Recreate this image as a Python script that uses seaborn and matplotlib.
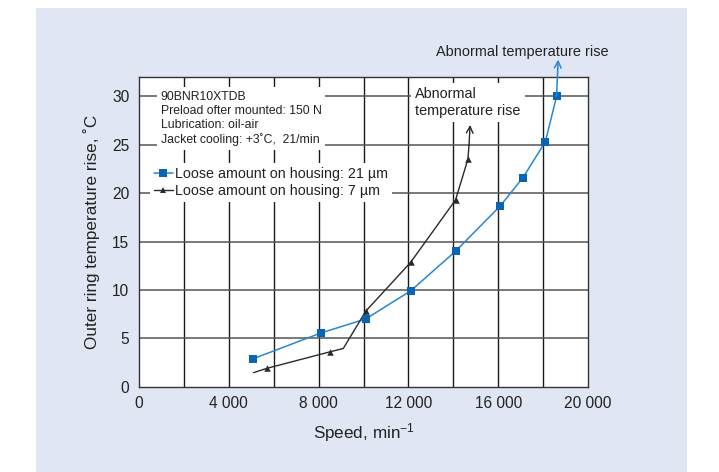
import matplotlib
matplotlib.use("Agg")
import matplotlib.pyplot as plt
import seaborn as sns
import pandas as pd
from matplotlib.lines import Line2D
from matplotlib.patches import Rectangle

# ---- data ----
speed_21 = [5100, 8100, 10100, 12100, 14100, 16100, 17100, 18100, 18600]
temp_21 = [2.9, 5.55, 7.0, 9.9, 14.0, 18.7, 21.6, 25.3, 30.0]
speed_7 = [5100, 5700, 8500, 9100, 10100, 12100, 14100, 14650, 14700]
temp_7 = [1.45, 1.9, 3.6, 3.95, 7.8, 12.85, 19.3, 23.5, 25.0]
marked_7 = [1, 2, 4, 5, 6, 7]
xticks = [0, 4000, 8000, 12000, 16000, 20000]
xticklabels = ["0", "4 000", "8 000", "12 000", "16 000", "20 000"]
yticks = [0, 5, 10, 15, 20, 25, 30]
label_21 = "Loose amount on housing: 21 µm"
label_7 = "Loose amount on housing: 7 µm"
info_text = "90BNR10XTDB\nPreload ofter mounted: 150 N\nLubrication: oil-air\nJacket cooling: +3˚C,  21/min"
abn_text = "Abnormal temperature rise"

sns.set_style("white")
plt.rcParams["font.family"] = ["Liberation Sans", "DejaVu Sans"]
plt.rcParams["mathtext.fontset"] = "custom"
plt.rcParams["mathtext.rm"] = "Liberation Sans"
plt.rcParams["mathtext.it"] = "Liberation Sans:italic"
plt.rcParams["mathtext.bf"] = "Liberation Sans:bold"

blue_line = "#2a86d0"
blue_mark = "#0a64b4"
dark = "#2a2a2a"
panel = "#e0e6f4"
txt = "#222222"

fig = plt.figure(figsize=(7.19, 4.72), dpi=100)
fig.patch.set_facecolor("white")
bg = Rectangle((36 / 719, 0), (687 - 36) / 719, 1 - 8 / 472,
               transform=fig.transFigure, facecolor=panel, edgecolor="none")
bg.set_zorder(-10)
fig.add_artist(bg)

ax = fig.add_axes([139 / 719, 1 - 386.7 / 472, 449 / 719, 309.7 / 472])
ax.set_zorder(1)
ax.set_facecolor("white")
ax.set_xlim(0, 20000)
ax.set_ylim(0, 32)

# grid
for gx in range(2000, 20000, 2000):
    ax.axvline(gx, color="#1a1a1a", lw=1.0, zorder=1)
for gy in range(5, 31, 5):
    ax.axhline(gy, color="#555555", lw=1.1, zorder=1)

df21 = pd.DataFrame({"speed": speed_21, "temp": temp_21})
df7 = pd.DataFrame({"speed": speed_7, "temp": temp_7})
df7m = df7.iloc[marked_7]

sns.lineplot(data=df21, x="speed", y="temp", ax=ax, color=blue_line, lw=1.1,
             sort=False, zorder=4, legend=False)
sns.scatterplot(data=df21, x="speed", y="temp", ax=ax, color=blue_mark, marker="s",
                s=38, linewidth=0, zorder=5, legend=False)
sns.lineplot(data=df7, x="speed", y="temp", ax=ax, color=dark, lw=1.0,
             sort=False, zorder=4, legend=False)
sns.scatterplot(data=df7m, x="speed", y="temp", ax=ax, color=dark, marker="^",
                s=22, linewidth=0, zorder=5, legend=False)

# arrows
ax.annotate("", xy=(18670, 33.8), xytext=(speed_21[-1], temp_21[-1]),
            arrowprops=dict(arrowstyle="->", color=blue_line, lw=1.1,
                            shrinkA=0, shrinkB=0, mutation_scale=12),
            annotation_clip=False, zorder=6)
ax.annotate("", xy=(14750, 27.05), xytext=(speed_7[-1], temp_7[-1]),
            arrowprops=dict(arrowstyle="->", color=dark, lw=1.0,
                            shrinkA=0, shrinkB=0, mutation_scale=12),
            annotation_clip=False, zorder=6)

# texts
ax.text((160.7 - 139) / 449, (386.7 - 90.5) / 309.7, info_text, transform=ax.transAxes,
        ha="left", va="top", fontsize=8.85, color=txt, linespacing=1.25,
        bbox=dict(facecolor="white", edgecolor="none", pad=2.5), zorder=7)
ax.text((415 - 139) / 449, (386.7 - 87) / 309.7, "Abnormal\ntemperature rise",
        transform=ax.transAxes, ha="left", va="top", fontsize=10.4, color=txt,
        linespacing=1.25, bbox=dict(facecolor="white", edgecolor="none", pad=3), zorder=7)
fig.text(522 / 719, 1 - 52 / 472, abn_text, ha="center", va="center",
         fontsize=10.45, color=txt)

# legend
handles = [Line2D([0], [0], color=blue_line, lw=1.1, marker="s", markersize=5.5,
                  markerfacecolor=blue_mark, markeredgewidth=0),
           Line2D([0], [0], color=dark, lw=1.0, marker="^", markersize=4.5,
                  markerfacecolor=dark, markeredgewidth=0)]
leg = ax.legend(handles, [label_21, label_7], loc="upper left",
                bbox_to_anchor=((150 - 139) / 449, (386.7 - 163) / 309.7),
                frameon=True, fancybox=False, framealpha=1, edgecolor="none",
                facecolor="white", fontsize=10.3, handlelength=1.35, handletextpad=0.15,
                borderpad=0.25, borderaxespad=0, labelspacing=0.25)
leg.set_zorder(8)
for t in leg.get_texts():
    t.set_color(txt)

# axes styling
ax.set_xticks(xticks)
ax.set_xticklabels(xticklabels)
ax.set_yticks(yticks)
ax.tick_params(axis="both", length=0, labelsize=11.2, colors=txt)
ax.tick_params(axis="x", pad=7)
ax.tick_params(axis="y", pad=7)
for s in ax.spines.values():
    s.set_color("#333333")
    s.set_linewidth(1.0)
ax.set_xlabel("Speed, min$^{-1}$", fontsize=12.3, color=txt, labelpad=7)
ax.set_ylabel("Outer ring temperature rise, ˚C", fontsize=12.3, color=txt, labelpad=9)

fig.savefig("out.png", dpi=100)
